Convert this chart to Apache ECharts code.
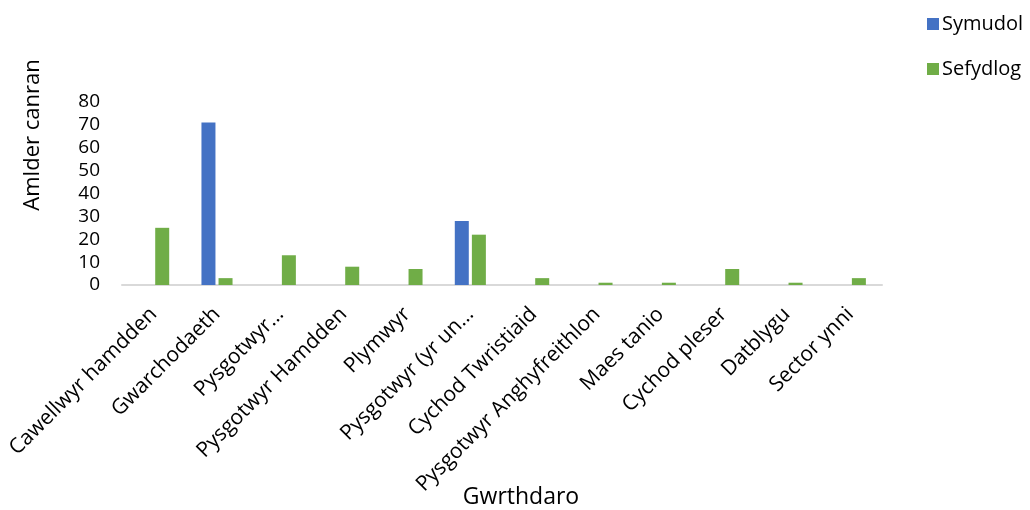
<!DOCTYPE html>
<html>
<head>
<meta charset="utf-8">
<script src="https://cdn.jsdelivr.net/npm/echarts@6/dist/echarts.min.js"></script>
<style>
html,body{margin:0;padding:0;background:#fff;}
#c{width:1030px;height:510px;}
</style>
</head>
<body>
<div id="c"></div>
<script>
var categories = ["Cawellwyr hamdden","Gwarchodaeth","Pysgotwyr…","Pysgotwyr Hamdden","Plymwyr","Pysgotwyr (yr un…","Cychod Twristiaid","Pysgotwyr Anghyfreithlon","Maes tanio","Cychod pleser","Datblygu","Sector ynni"];
var symudol = [0, 71, 0, 0, 0, 28, 0, 0, 0, 0, 0, 0];
var sefydlog = [25, 3, 13, 8, 7, 22, 3, 1, 1, 7, 1, 3];
var seriesNames = ["Symudol","Sefydlog"];
var yTitle = "Amlder canran";
var xTitle = "Gwrthdaro";

var FONT = "Open Sans";
var chart = echarts.init(document.getElementById('c'));
chart.setOption({
  animation: false,
  textStyle: {fontFamily: FONT, color: '#000'},
  grid: {left: 122, right: 148, top: 102, bottom: 225, containLabel: false, outerBoundsMode: 'none'},
  legend: {
    orient: 'vertical', left: 922, top: 9, itemGap: 25,
    itemWidth: 12, itemHeight: 12, icon: 'rect',
    textStyle: {fontFamily: FONT, fontSize: 20, color: '#000', padding: [0,0,0,-2]},
    data: seriesNames
  },
  xAxis: {
    type: 'category', data: categories,
    axisLine: {lineStyle: {color: '#d9d9d9', width: 2}},
    axisTick: {show: false},
    axisLabel: {rotate: 45, interval: 0, fontSize: 21, color: '#000', margin: 26, fontFamily: FONT}
  },
  yAxis: {
    type: 'value', min: 0, max: 80, interval: 10,
    axisLine: {show: false}, axisTick: {show: false},
    splitLine: {show: false},
    axisLabel: {fontSize: 19, color: '#000', margin: 22, fontFamily: FONT}
  },
  graphic: [{
    type: 'text',
    rotation: Math.PI/2,
    style: {text: yTitle, font: '22px "Open Sans"', fill: '#000', textAlign: 'center', textVerticalAlign: 'middle'},
    x: 33, y: 135
  }, {
    type: 'text',
    style: {text: xTitle, font: '23px "Open Sans"', fill: '#000', textAlign: 'center', textVerticalAlign: 'middle'},
    x: 521, y: 497
  }],
  series: [
    {name: seriesNames[0], type: 'bar', data: symudol, barWidth: 14, barGap: '22%',
     itemStyle: {color: '#4472c4'}},
    {name: seriesNames[1], type: 'bar', data: sefydlog, barWidth: 14, barGap: '22%',
     itemStyle: {color: '#70ad47'}}
  ]
});
</script>
</body>
</html>
